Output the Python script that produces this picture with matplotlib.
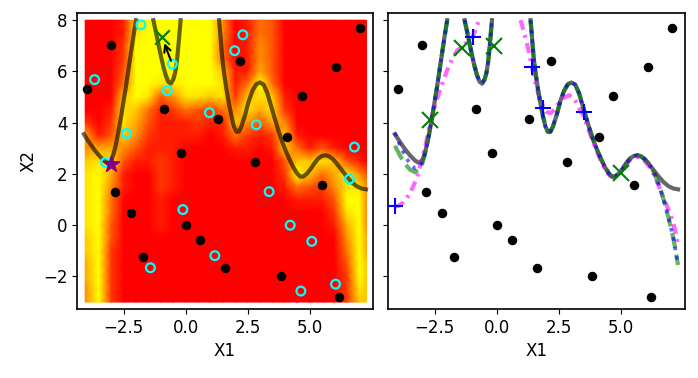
import numpy as np
import matplotlib
matplotlib.use("Agg")
import matplotlib.pyplot as plt

# ---- data ----
dots_x = [-3.99, -3.0, -2.84, -2.22, -1.71, -0.86, -0.20, 0.0, 0.59, 1.29,
          1.61, 2.19, 2.82, 3.83, 4.11, 4.68, 5.51, 6.06, 6.19, 7.03]
dots_y = [5.31, 7.02, 1.30, 0.49, -1.24, 4.53, 2.80, 0.01, -0.59, 4.14,
          -1.66, 6.42, 2.47, -2.0, 3.46, 5.06, 1.57, 6.18, -2.79, 7.71]

ring_x = [-3.67, -3.23, -2.39, -1.80, -1.42, -0.74, -0.54, -0.11, 0.96, 1.18,
          1.98, 2.31, 2.85, 3.37, 4.22, 4.65, 5.09, 6.05, 6.61, 6.81]
ring_y = [5.68, 2.45, 3.58, 7.82, -1.66, 5.25, 6.29, 0.61, 4.39, -1.19,
          6.81, 7.43, 3.92, 1.31, 0.0, -2.57, -0.63, -2.30, 1.80, 3.05]

star_xy = (-3.0, 2.38)
best_xy = (-0.95, 7.33)

plus_x = [-4.09, -0.98, 1.42, 1.87, 3.49]
plus_y = [0.73, 7.33, 6.16, 4.58, 4.43]
cross_x = [-2.70, -1.42, -0.13, 5.0]
cross_y = [4.12, 6.92, 7.0, 2.05]

nan = np.nan
# curve x positions shared by the gray / green / blue curves
curve_x = [-4.1, -3.9, -3.7, -3.5, -3.3, -3.15, -3.0, -2.9, -2.8, -2.7, -2.6, -2.5,
           -2.4, -2.3, -2.2, -2.1, -2.0, -1.65,
           -1.3, -1.2, -1.1, -1.0, -0.9, -0.8, -0.7, -0.6, -0.5, -0.42, -0.35, -0.29,
           -0.25, -0.2, 0.6,
           1.35, 1.4, 1.47, 1.55, 1.65, 1.75, 1.85, 1.95, 2.05, 2.15, 2.25, 2.4, 2.55,
           2.7, 2.85, 3.0, 3.15, 3.3, 3.45, 3.6, 3.75, 3.9, 4.05, 4.2, 4.35, 4.5, 4.62,
           4.75, 4.9, 5.05, 5.2, 5.35, 5.5, 5.65, 5.8, 5.95, 6.1, 6.3, 6.5, 6.7, 6.9,
           7.1, 7.28]
gray_y = [3.55, 3.25, 2.97, 2.73, 2.53, 2.44, 2.52, 2.8, 3.2, 3.7, 4.25, 4.85,
          5.45, 6.1, 6.75, 7.4, 8.0, nan,
          8.0, 7.55, 7.08, 6.62, 6.2, 5.85, 5.6, 5.53, 5.68, 5.95, 6.4, 7.0,
          7.45, 8.0, nan,
          8.0, 7.45, 6.6, 5.95, 5.3, 4.75, 4.25, 3.85, 3.64, 3.65, 3.85, 4.3, 4.85,
          5.25, 5.5, 5.57, 5.48, 5.15, 4.65, 4.15, 3.68, 3.25, 2.88, 2.55, 2.25, 2.02, 1.9,
          1.9, 2.02, 2.2, 2.42, 2.6, 2.7, 2.73, 2.68, 2.57, 2.4, 2.15, 1.9, 1.68, 1.52,
          1.43, 1.4]
green_y = [3.1, 2.72, 2.4, 2.17, 2.07, 2.15, 2.4, 2.75, 3.2, 3.7, 4.25, 4.85,
           5.45, 6.1, 6.75, 7.4, 8.0, nan,
           8.0, 7.55, 7.08, 6.62, 6.2, 5.85, 5.6, 5.53, 5.68, 5.95, 6.4, 7.0,
           7.45, 8.0, nan,
           8.0, 7.45, 6.6, 5.95, 5.3, 4.75, 4.25, 3.85, 3.64, 3.65, 3.85, 4.3, 4.85,
           5.25, 5.5, 5.57, 5.48, 5.15, 4.65, 4.15, 3.68, 3.25, 2.88, 2.55, 2.25, 2.02, 1.9,
           1.9, 2.02, 2.2, 2.42, 2.6, 2.7, 2.73, 2.68, 2.57, 2.4, 2.08, 1.62, 1.0, 0.28,
           -0.55, -1.55]
blue_y = [3.6, 3.12, 2.72, 2.4, 2.22, 2.25, 2.45, 2.78, 3.2, 3.7, 4.25, 4.85,
          5.45, 6.1, 6.75, 7.4, 8.0, nan,
          8.0, 7.55, 7.08, 6.62, 6.2, 5.85, 5.6, 5.53, 5.68, 5.95, 6.4, 7.0,
          7.45, 8.0, nan,
          8.0, 7.45, 6.6, 5.95, 5.3, 4.75, 4.25, 3.85, 3.64, 3.65, 3.85, 4.3, 4.85,
          5.25, 5.5, 5.57, 5.48, 5.15, 4.65, 4.15, 3.68, 3.25, 2.88, 2.55, 2.25, 2.02, 1.9,
          1.9, 2.02, 2.2, 2.42, 2.6, 2.7, 2.73, 2.68, 2.57, 2.4, 2.08, 1.62, 1.0, 0.28,
          -0.55, -1.55]

pink_x = [-4.1, -3.95, -3.8, -3.65, -3.5, -3.35, -3.2, -3.05, -2.9, -2.75, -2.6,
          -2.45, -2.3, -2.15, -2.0, -1.8, -1.6, -1.43, -1.25, -1.1, -0.98, -0.88,
          -0.8, -0.72, 0.1,
          0.95, 1.05, 1.15, 1.25, 1.4, 1.55, 1.7, 1.87, 2.0, 2.15, 2.3, 2.5, 2.7, 2.9,
          3.05, 3.2, 3.35, 3.5, 3.65, 3.8, 3.95, 4.1, 4.25, 4.4, 4.55, 4.7, 4.85, 5.0,
          5.2, 5.4, 5.6, 5.75, 5.9, 6.1, 6.3, 6.5, 6.7, 6.9, 7.05, 7.15, 7.27]
pink_y = [0.73, 0.76, 0.86, 1.02, 1.25, 1.55, 1.9, 2.45, 3.0, 3.7, 4.3,
          4.8, 5.25, 5.65, 6.05, 6.5, 6.82, 6.95, 7.1, 7.25, 7.35, 7.58,
          7.8, 8.0, nan,
          8.0, 7.65, 7.3, 6.9, 6.2, 5.55, 5.0, 4.6, 4.42, 4.37, 4.5, 4.78, 4.98, 5.07,
          5.0, 4.78, 4.47, 4.25, 3.8, 3.42, 3.05, 2.7, 2.35, 2.08, 1.92, 1.88, 1.96, 2.12,
          2.38, 2.58, 2.67, 2.66, 2.55, 2.32, 2.0, 1.55, 1.05, 0.6, 0.2, -0.15, -0.7]

# heat map levels (0 = red ... 9 = yellow), rows from y = 8 down to y = -3
heat_x = [-4.05, -3.5, -3.0, -2.5, -2.0, -1.5, -1.0, -0.5, 0.0, 0.5, 1.0, 1.5,
          2.0, 2.5, 3.0, 3.5, 4.0, 4.5, 5.0, 5.5, 6.0, 6.5, 7.0, 7.3]
heat_y = [8.0, 7.5, 7.0, 6.5, 6.0, 5.5, 5.0, 4.5, 4.0, 3.5, 3.0, 2.5, 2.0, 1.5,
          1.0, 0.5, 0.0, -0.5, -1.0, -1.5, -2.0, -2.5, -3.0]
heat_rows = [
    "000189999995014300000000",
    "000189999995014300000000",
    "000299999994015300000000",
    "000299999994015300000000",
    "000399999997116300000000",
    "000499889998149400000000",
    "000798358878278710000000",
    "001874124324586820000000",
    "202863111211753650000000",
    "613752111101421271000000",
    "566531110000110174131000",
    "788311210000000037787310",
    "896100210000000029746853",
    "895100210000000014325885",
    "894000100000000001113995",
    "894000100000000000002895",
    "893000100000000000001695",
    "793000000000000000000596",
    "792000000000000000000496",
    "692000000000000000000397",
    "692000000000000000000297",
    "592000000000000000000287",
    "592000000000000000000277",
]

x_ticks = [-2.5, 0.0, 2.5, 5.0]
y_ticks = [-2, 0, 2, 4, 6, 8]

# ---- figure ----
plt.rcParams['font.size'] = 12
fig = plt.figure(figsize=(6.98, 3.78), dpi=100)
ax1 = fig.add_axes([77 / 698, 69 / 378, 296 / 698, 296 / 378])
ax2 = fig.add_axes([388 / 698, 69 / 378, 297 / 698, 296 / 378], sharey=ax1)

heat = np.array([[int(c) for c in row] for row in heat_rows], dtype=float)
ax1.pcolormesh(heat_x, heat_y, heat, shading='gouraud', cmap='autumn',
               vmin=0, vmax=9, zorder=0)

# left panel
ax1.plot(curve_x, gray_y, color='k', alpha=0.6, lw=3, zorder=2)
ax1.scatter(dots_x, dots_y, s=34, color='k', zorder=3)
ax1.scatter(ring_x, ring_y, s=40, facecolors='none', edgecolors='cyan',
            linewidths=1.6, zorder=3)
ax1.scatter([star_xy[0]], [star_xy[1]], s=150, marker='*', color='purple', zorder=4)
ax1.scatter([best_xy[0]], [best_xy[1]], s=110, marker='x', color='green',
            linewidths=1.6, zorder=4)
ax1.annotate('', xy=best_xy, xytext=(ring_x[6], ring_y[6]),
             arrowprops=dict(arrowstyle='->', color='k', lw=1.5,
                             shrinkA=2.5, shrinkB=4.5), zorder=5)

# right panel
ax2.plot(curve_x, gray_y, color='k', alpha=0.6, lw=3, zorder=2)
ax2.plot(pink_x, pink_y, color='magenta', alpha=0.6, lw=3,
         dashes=(2.4, 1.3, 0.7, 1.3), zorder=2)
ax2.plot(curve_x, green_y, color='green', alpha=0.6, lw=3, ls='--', zorder=2)
ax2.plot(curve_x, blue_y, color='blue', alpha=0.6, lw=2.6, ls=':', zorder=2)
ax2.scatter(dots_x, dots_y, s=34, color='k', zorder=3)
ax2.plot(plus_x, plus_y, ls='none', marker='+', ms=11, mew=1.5, color='blue', zorder=4)
ax2.plot(cross_x, cross_y, ls='none', marker='x', ms=11, mew=1.5, color='green', zorder=4)

for ax in (ax1, ax2):
    ax.set_xlim(-4.38, 7.56)
    ax.set_ylim(-3.27, 8.28)
    ax.set_xticks(x_ticks)
    ax.set_yticks(y_ticks)
    ax.set_xlabel("X1")
    for sp in ax.spines.values():
        sp.set_linewidth(1.2)
ax1.set_ylabel("X2")
ax2.tick_params(labelleft=False)

fig.savefig("out.png", dpi=100)
